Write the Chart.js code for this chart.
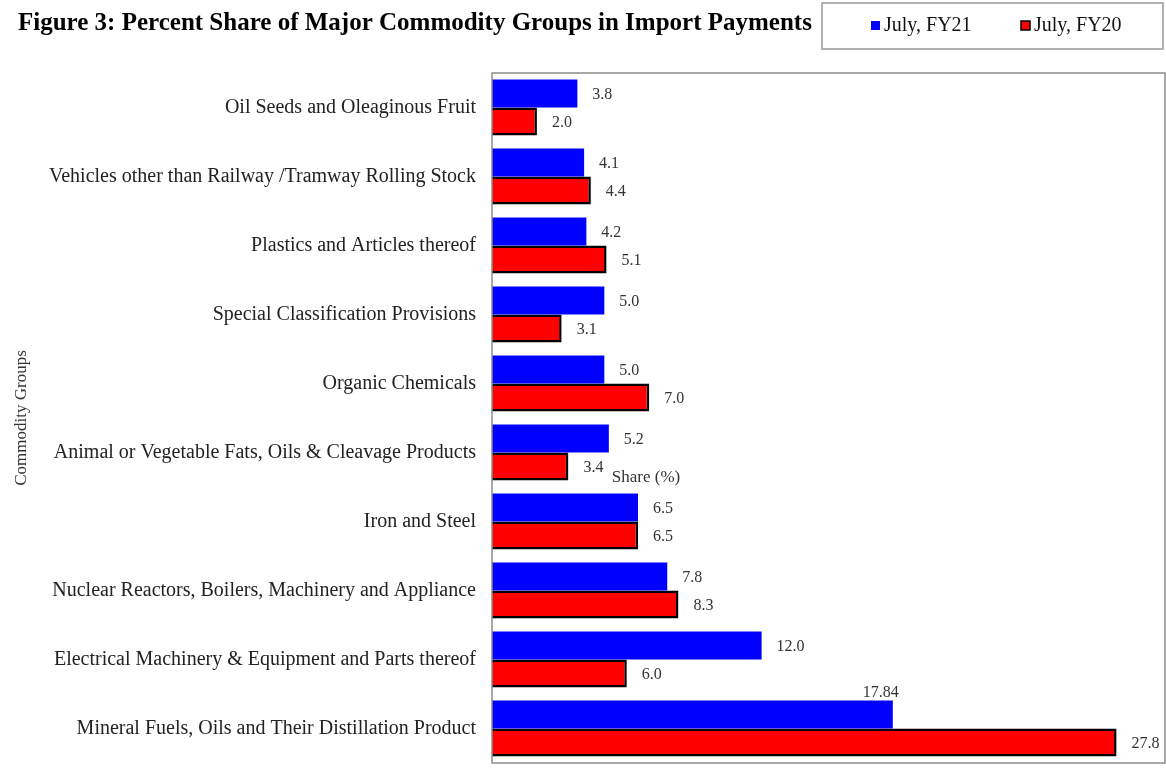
<!DOCTYPE html>
<html>
<head>
<meta charset="utf-8">
<script src="https://cdn.jsdelivr.net/npm/chart.js@4"></script>
<style>
  html, body { margin: 0; padding: 0; background: #fff; }
  canvas { display: block; }
</style>
</head>
<body>
<canvas id="myChart" width="1166" height="776"></canvas>
<script>
// categories, top to bottom
const commodityGroups = [
    'Oil Seeds and Oleaginous Fruit',
    'Vehicles other than Railway /Tramway Rolling Stock',
    'Plastics and Articles thereof',
    'Special Classification Provisions',
    'Organic Chemicals',
    'Animal or Vegetable Fats, Oils & Cleavage Products',
    'Iron and Steel',
    'Nuclear Reactors, Boilers, Machinery and Appliance',
    'Electrical Machinery & Equipment and Parts thereof',
    'Mineral Fuels, Oils and Their Distillation Product'
];

// share (%) values
const julyFY21 = [3.8, 4.1, 4.2, 5.0, 5.0, 5.2, 6.5, 7.8, 12.0, 17.84];
const julyFY20 = [2.0, 4.4, 5.1, 3.1, 7.0, 3.4, 6.5, 8.3, 6.0, 27.8];

// value labels as printed on the chart
const labelsFY21 = ['3.8', '4.1', '4.2', '5.0', '5.0', '5.2', '6.5', '7.8', '12.0', '17.84'];
const labelsFY20 = ['2.0', '4.4', '5.1', '3.1', '7.0', '3.4', '6.5', '8.3', '6.0', '27.8'];

const seriesNames = ['July, FY21', 'July, FY20'];

const serif = '"Liberation Serif", "Times New Roman", serif';

// Plot frame, title, legend box and value labels
const decorPlugin = {
    id: 'decor',
    afterDatasetsDraw(chart) {
        const ctx = chart.ctx;
        const area = chart.chartArea;
        ctx.save();

        // frame round the plot area
        ctx.strokeStyle = '#8c8c8c';
        ctx.lineWidth = 1.5;
        ctx.strokeRect(area.left, area.top, area.right - area.left - 1, area.bottom - area.top);

        // value labels
        ctx.font = '16px ' + serif;
        ctx.fillStyle = '#333';
        ctx.textBaseline = 'middle';
        const allLabels = [labelsFY21, labelsFY20];
        chart.data.datasets.forEach((ds, di) => {
            const meta = chart.getDatasetMeta(di);
            meta.data.forEach((bar, i) => {
                const txt = allLabels[di][i];
                if (di === 0 && i === meta.data.length - 1) {
                    // this one sits above the end of the bar
                    ctx.textAlign = 'center';
                    ctx.fillText(txt, bar.x - 12, bar.y - bar.height / 2 - 8);
                } else {
                    ctx.textAlign = 'left';
                    ctx.fillText(txt, bar.x + 15, bar.y + 1);
                }
            });
        });

        // stray axis title inside the plot
        ctx.font = '17px ' + serif;
        ctx.fillStyle = '#333';
        ctx.textAlign = 'center';
        ctx.fillText('Share (%)', area.left + 154, area.top + 405);

        // figure title
        ctx.font = 'bold 25px ' + serif;
        ctx.fillStyle = '#000';
        ctx.textAlign = 'left';
        ctx.fillText('Figure 3: Percent Share of Major Commodity Groups in Import Payments', 18, 24);

        // legend box
        ctx.strokeStyle = '#999';
        ctx.lineWidth = 1.5;
        ctx.strokeRect(822, 3, 341, 46);
        ctx.font = '20px ' + serif;
        const items = [{ x: 871, ds: 0 }, { x: 1021, ds: 1 }];
        items.forEach(it => {
            const ds = chart.data.datasets[it.ds];
            ctx.fillStyle = ds.backgroundColor;
            ctx.fillRect(it.x, 21, 9, 9);
            if (ds.borderWidth) {
                ctx.strokeStyle = ds.borderColor;
                ctx.lineWidth = 1.5;
                ctx.strokeRect(it.x, 21, 9, 9);
            }
            ctx.fillStyle = '#111';
            ctx.fillText(ds.label, it.x + 13, 26);
        });

        ctx.restore();
    }
};

const ctx = document.getElementById('myChart').getContext('2d');
new Chart(ctx, {
    type: 'bar',
    data: {
        labels: commodityGroups,
        datasets: [
            {
                label: seriesNames[0],
                data: julyFY21,
                backgroundColor: '#0000ff',
                borderWidth: 0
            },
            {
                label: seriesNames[1],
                data: julyFY20,
                backgroundColor: '#ff0000',
                borderColor: '#000',
                borderWidth: 2.5
            }
        ]
    },
    options: {
        indexAxis: 'y',
        responsive: false,
        animation: false,
        categoryPercentage: 0.81,
        barPercentage: 1.0,
        layout: {
            padding: { top: 73, bottom: 13, left: 0, right: 0 }
        },
        scales: {
            x: {
                display: false,
                min: 0,
                max: 30
            },
            y: {
                grid: { display: false, drawTicks: false },
                border: { display: false },
                ticks: {
                    color: '#222',
                    padding: 16,
                    font: { family: serif, size: 20 }
                },
                title: {
                    display: true,
                    text: 'Commodity Groups',
                    color: '#333',
                    padding: { top: 11, bottom: 0 },
                    font: { family: serif, size: 17 }
                },
                afterFit(scale) {
                    scale.width = 492;
                    scale.paddingTop = 0;
                    scale.paddingBottom = 0;
                }
            }
        },
        plugins: {
            legend: { display: false },
            tooltip: { enabled: false }
        }
    },
    plugins: [decorPlugin]
});
</script>
</body>
</html>
